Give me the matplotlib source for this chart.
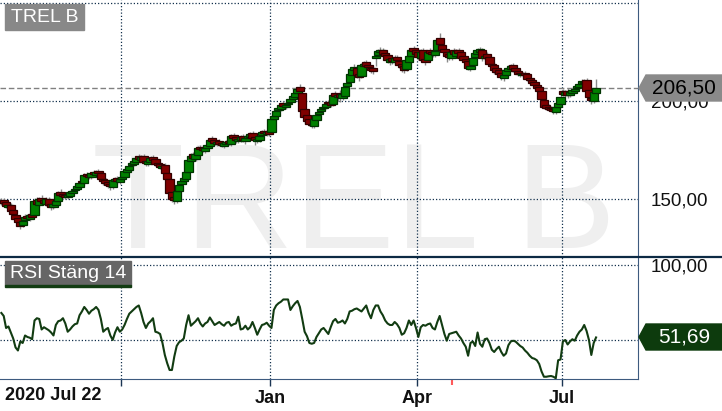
import matplotlib.pyplot as plt
from matplotlib.patches import Rectangle, Polygon
from matplotlib.lines import Line2D
from matplotlib.ticker import FixedFormatter

plt.rcParams['font.family'] = ['Liberation Sans', 'DejaVu Sans']

ticker_name = "TREL B"
rsi_title = "RSI Stäng 14"
start_label = "2020 Jul 22"
month_labels = ["", "Jan", "Apr", "Jul"]
month_starts = [51, 114, 176, 237]   # trading day index of first day in Oct, Jan, Apr, Jul
event_day = 190
last_price = 206.50
last_rsi = 51.69
price_ticks = [150, 200, 250]
price_tick_labels = ["150,00", "200,00", ""]
rsi_ticks = [50, 100]
rsi_tick_labels = ["", "100,00"]   # 50 is hidden behind the value tag

# daily OHLC, 2020-07-22 .. 2021-07-21
opens = [
    148, 149.5, 148.5, 146, 147, 144.5, 142, 140.5, 138.5, 136.5,
    139.5, 141.5, 140, 142.5, 142, 149.5, 147, 150.5, 149.5, 147.5,
    150, 147.5, 146, 147, 149, 153.5, 152.5, 152, 151, 151.5,
    153, 154.5, 155, 156, 159, 158, 162.5, 162, 161, 164,
    162, 164.5, 163.5, 160, 159.5, 158.5, 157.5, 156, 159, 160.5,
    158.5, 160, 161, 164, 165, 167.5, 168, 169, 172, 170,
    172, 169.5, 168, 169, 171.5, 170.5, 168.5, 168, 166, 167.5,
    163.5, 160, 153.5, 151, 149, 154, 157.5, 159, 160, 164,
    169.5, 173, 170.5, 172.5, 176.5, 176, 174.5, 176, 177, 181,
    180, 178, 179.5, 178.5, 177, 178, 179.5, 178, 182.5, 181.5,
    179.5, 180, 182, 179.5, 181, 181.5, 183.5, 181.5, 179.5, 180,
    182.5, 184.5, 183, 184.5, 184, 191, 192.5, 195.5, 196, 199,
    197, 198.5, 199.5, 201, 202, 204, 207, 204, 196, 193,
    191, 188.5, 187, 190.5, 193.5, 195, 196.5, 197, 199.5, 199.5,
    198.5, 204, 202, 203.5, 201.5, 202.5, 207.5, 209.5, 213, 216,
    217, 214, 212.5, 218, 220, 218.5, 217, 217, 222, 223.5,
    225, 226, 224.5, 223.5, 220, 222, 220, 222.5, 220.5, 219,
    218, 216.5, 220, 223, 227, 226, 225, 222, 226, 221.5,
    221, 226, 225, 223.5, 226, 232, 228.5, 226.5, 225, 224,
    222, 226, 223, 226, 225, 223, 221.5, 220.5, 216.5, 218.5,
    222.5, 224, 225, 226, 222, 224, 222.5, 219, 218.5, 217,
    216, 214.5, 211.5, 213, 215.5, 216.5, 218.5, 217, 215.5, 214.5,
    213, 214.5, 213.5, 211.5, 210.5, 209.5, 208, 207, 205, 200.5,
    198, 197, 196.5, 196, 194.5, 197, 198.5, 205, 203, 205,
    203, 204, 205, 206.5, 207, 208.5, 209, 210.5, 205.5, 201.5,
    200, 204,
]
highs = [
    150.5, 150.5, 149.5, 148, 148, 145.5, 143, 141.5, 139, 140.5,
    142.5, 142.5, 143, 143.5, 150.5, 151, 151, 152, 150.5, 151,
    151, 148.5, 148.5, 150, 154, 155, 153.5, 153, 153, 154.5,
    155, 156, 157.5, 159, 160, 163, 164, 163, 164, 165,
    165, 165.5, 164, 161, 160.5, 159.5, 158.5, 160.5, 161, 161.5,
    161, 162, 165.5, 166.5, 168, 169, 170.5, 172, 173, 172.5,
    173, 170.5, 170.5, 172, 172.5, 171.5, 169.5, 169, 168, 168.5,
    164.5, 161, 154.5, 152, 155, 158, 160, 161.5, 165, 171,
    173.5, 174, 174, 177, 177.5, 177, 177, 178.5, 181, 182,
    181, 180, 180.5, 179.5, 179.5, 180, 180.5, 183, 183.5, 182.5,
    181.5, 182.5, 183, 182, 183, 184, 184.5, 182.5, 181.5, 183,
    185, 185.5, 185, 185.5, 192, 193.5, 196, 197.5, 199, 200,
    199, 200, 202, 203.5, 205, 207, 208.5, 205, 197, 194,
    192, 190, 192, 194, 195.5, 197, 198, 199.5, 200.5, 200.5,
    204, 205, 204, 205.5, 204.5, 208, 210, 215, 217.5, 219,
    218, 215, 219.5, 220.5, 221, 219.5, 218, 218, 224.5, 226.5,
    227.5, 227, 225.5, 224.5, 222.5, 223, 223.5, 223.5, 221.5, 220,
    219, 222, 224, 227, 228, 227, 226, 226.5, 227, 222.5,
    226, 227, 226, 226.5, 232, 234.5, 229.5, 227, 226.5, 225.5,
    226, 227, 226.5, 227, 226, 224, 222.5, 221, 219.5, 223,
    226, 227, 227.5, 227, 224.5, 225, 223.5, 220.5, 220, 218,
    217, 215.5, 214, 217, 218.5, 219, 219.5, 218, 216.5, 215.5,
    215, 215.5, 214.5, 212.5, 211.5, 210.5, 209, 208, 206, 201.5,
    199, 198.5, 197.5, 197, 198, 200, 203, 206, 205.5, 206.5,
    205.5, 206.5, 207, 208.5, 209.5, 211, 211, 211.5, 206.5, 203,
    205.5, 211,
]
lows = [
    147, 147.5, 145.5, 145, 143, 141.5, 139, 136.5, 134.5, 135.5,
    138.5, 139.5, 139, 140, 141, 146.5, 146, 148, 147, 146.5,
    146, 144.5, 145, 146, 148, 151, 150.5, 150, 150, 151,
    152, 153.5, 154, 155, 157.5, 157, 160.5, 160, 160, 161.5,
    161, 162, 159, 157, 156.5, 155.5, 154.5, 155, 158, 157.5,
    157.5, 159, 160, 163, 164, 166.5, 167, 168, 169.5, 169,
    168, 167, 167, 168, 169, 167, 166, 165.5, 165, 161,
    158, 152, 148.5, 147.5, 148, 153, 156.5, 158, 159, 163,
    168.5, 170, 169.5, 171.5, 174.5, 174, 173.5, 175, 176, 178.5,
    177.5, 177, 177, 176.5, 176, 177, 177.5, 177, 180, 178.5,
    178.5, 179, 179, 178, 180, 180.5, 180, 177.5, 178.5, 179,
    181.5, 182.5, 182, 182, 183, 190, 191.5, 194.5, 195, 196,
    196, 197.5, 198.5, 200, 201, 203, 204, 194, 188, 188.5,
    187, 186, 186, 189.5, 192.5, 194, 195.5, 196, 198, 197,
    197.5, 201.5, 200, 199.5, 200.5, 201.5, 206.5, 208.5, 212, 215,
    211.5, 210, 211.5, 216.5, 216.5, 216, 214.5, 214, 218, 222.5,
    223.5, 223, 222, 219.5, 218.5, 219, 218.5, 220, 217, 215,
    214.5, 215.5, 219, 222, 224.5, 223, 221, 221, 220, 218.5,
    220, 223.5, 222.5, 222.5, 225, 228, 225, 223.5, 220, 221,
    221, 223, 222, 223.5, 221, 220, 218.5, 216, 215.5, 217.5,
    221.5, 222.5, 224, 220.5, 220.5, 221, 218, 216, 214, 213.5,
    213, 210.5, 210, 212, 214.5, 215.5, 215, 214, 212.5, 212,
    212, 211.5, 210, 209, 208, 207, 205.5, 204, 200, 196,
    195.5, 195, 194.5, 193.5, 193.5, 196, 197.5, 202.5, 202, 201.5,
    202, 203, 204, 205.5, 206.5, 207.5, 208, 204.5, 200.5, 198.5,
    199, 203,
]
closes = [
    149, 148, 146.5, 147, 144, 142.5, 140, 138, 136, 139,
    141, 140.5, 142, 141, 149, 147.5, 150, 149, 148, 150,
    147, 146, 147.5, 149, 153, 152, 151.5, 151, 152, 153.5,
    154, 155, 156.5, 158, 158.5, 162, 161.5, 161, 163, 162.5,
    164, 163, 160, 159, 158, 157, 156.5, 159.5, 160, 159,
    160, 161, 164.5, 165.5, 167, 168, 169.5, 171, 170.5, 171.5,
    169, 168.5, 169.5, 171, 170, 168, 167.5, 166.5, 167, 163,
    160, 153, 150, 149.5, 154, 157, 159, 160.5, 164, 170,
    172, 171, 173, 176, 175.5, 175, 176, 177.5, 180, 179.5,
    178.5, 179, 178, 177.5, 178.5, 179, 178.5, 182, 181, 180,
    180.5, 181.5, 180, 181, 182, 183, 181, 180, 180.5, 182,
    184, 183.5, 184, 183, 191, 192.5, 195, 196.5, 198, 197.5,
    198, 199, 201, 202.5, 204, 206, 205, 195, 192, 190,
    188, 187.5, 191, 193, 194.5, 196, 197, 198.5, 199, 198,
    203, 202.5, 203, 202, 203.5, 207, 209, 214, 216.5, 217.5,
    213, 212, 218.5, 219, 218, 217.5, 216, 215.5, 223, 225.5,
    226, 224, 223, 221, 221.5, 220.5, 222, 221, 218.5, 217.5,
    216, 221, 223, 226, 225.5, 224, 222.5, 225, 221, 220,
    225, 224.5, 224, 225.5, 231, 229, 226, 225, 223, 222.5,
    225, 224, 225.5, 224.5, 222, 221, 220, 217, 218, 222,
    224.5, 226, 226.5, 222, 223, 222, 219, 218, 216, 215,
    214, 212, 213, 216, 217, 218, 216.5, 215.5, 214, 213.5,
    214, 213, 211, 210.5, 209, 208, 206.5, 205, 201, 197,
    196.5, 196, 195.5, 195, 197, 199, 202, 203.5, 204.5, 203,
    204.5, 205.5, 206, 207.5, 208.5, 210, 209.5, 205, 202, 200.5,
    204.5, 206.5,
]
rsi = [
    68, 66, 58, 59, 55, 51, 45, 43, 49, 48,
    53, 52, 51.5, 50.5, 63, 64.5, 64, 57, 58.5, 57.5,
    56.5, 55, 53, 60, 62.5, 63, 64.5, 61, 55.5, 57,
    59, 60.5, 61, 66.5, 69, 72, 70, 67.5, 69.5, 70.5,
    72, 70, 64, 55.5, 57, 58, 53, 50, 55, 58.5,
    55.5, 57, 60, 64, 67.5, 69, 70.5, 72, 73, 68,
    62, 58, 61, 62.5, 64.5, 55.5, 55, 54, 48, 40,
    34.5, 30, 30, 39, 46, 48.5, 49.5, 51, 60, 66.5,
    59.5, 61, 62.5, 64.5, 61, 59, 61, 62, 65, 62.5,
    60, 61, 62, 60.5, 59.5, 61.5, 62, 59.5, 60.5, 61,
    65.5, 57, 57.5, 59.5, 57, 58.5, 62, 58, 53.5, 57,
    60, 60.5, 61.5, 59.5, 58, 70, 73, 74.5, 75.5, 77,
    77, 77, 70, 72.5, 74.5, 76, 72, 64, 55.5, 52.5,
    48, 47.5, 48, 52, 54.5, 57, 58, 56, 54, 58.5,
    62.5, 64, 61.5, 62, 63, 61, 64, 69, 69.5, 70.5,
    71, 70, 69, 71, 73, 68, 64.5, 70, 73, 73,
    69, 66.5, 63, 61, 60, 60, 62, 60.5, 58, 53.5,
    54.5, 58, 63, 60, 63, 58, 52, 58.5, 60, 59.5,
    60.5, 61, 58, 57, 62, 66, 60, 54, 49.5, 54,
    54.5, 55, 55.5, 53, 51, 48, 45.5, 39.5, 48, 49,
    46, 55, 47.5, 45.5, 50.5, 51, 48, 43.5, 42, 44,
    45.5, 42, 39.5, 41, 46.5, 49, 49.5, 49, 47.5, 46,
    45, 43, 41.5, 39.5, 38, 37.5, 36.5, 34, 29, 25.5,
    25.5, 25.8, 26, 25.5, 24.5, 36.5, 37, 49, 50, 47,
    49, 50.5, 49.5, 53, 55.5, 57, 60, 56, 50, 40,
    48, 51.69,
]

W, H = 722, 411
fig = plt.figure(figsize=(W / 100, H / 100), dpi=100)


def fx(x):
    return x / W


def fy(y):
    return 1 - y / H


def fig_pts(pts):
    return [(fx(x), fy(y)) for x, y in pts]


axis_blue = '#3d5a7f'
grid_kw = dict(color='#12304d', linestyle=(0, (1, 1.6)), linewidth=0.9)

ax = fig.add_axes([0, fy(257), fx(638), 257 / H])
ax2 = fig.add_axes([0, fy(379), fx(638), (379 - 257) / H], sharex=ax)

days = list(range(len(closes)))
month_pos = [m - 0.5 for m in month_starts]

# watermark
ax.text(0.555, 1 - 248 / 257, ticker_name, transform=ax.transAxes, ha='center',
        va='baseline', fontsize=109, color='#efefef', zorder=0)

# candles
ax.vlines(days, lows, highs, color='#8a8a8a', linewidth=1, zorder=2)
up = [c >= o for o, c in zip(opens, closes)]
bottoms = [min(o, c) for o, c in zip(opens, closes)]
heights = [max(abs(c - o), 0.6) for o, c in zip(opens, closes)]
faces = ['#008000' if u else '#800000' for u in up]
edges = ['#003300' if u else '#330000' for u in up]
ax.bar(days, heights, bottom=bottoms, width=3.5, color=faces, edgecolor=edges,
       linewidth=0.9, zorder=3)
ax.axhline(last_price, color='#808080', linestyle=(0, (4, 2)), linewidth=1, zorder=1)

ax.set_xlim(-0.57, 268.7)
ax.set_ylim(120.4, 251.5)
ax.set_yticks(price_ticks)
ax.yaxis.set_major_formatter(FixedFormatter(price_tick_labels))
ax.yaxis.tick_right()
ax.set_xticks(month_pos)
ax.grid(True, **grid_kw)
ax.set_axisbelow(True)
ax.tick_params(axis='y', length=0, pad=9, labelsize=13.5, labelcolor='#111111')
ax.tick_params(axis='x', length=0, labelbottom=False)
for s in ['left', 'top', 'bottom']:
    ax.spines[s].set_visible(False)
ax.spines['right'].set_color(axis_blue)

# RSI panel
ax2.plot(days, rsi, color='#123c12', linewidth=1.5, zorder=3)
ax2.set_ylim(24, 105.3)
ax2.set_yticks(rsi_ticks)
ax2.yaxis.set_major_formatter(FixedFormatter(rsi_tick_labels))
ax2.yaxis.tick_right()
ax2.set_xticks(month_pos)
ax2.set_xticklabels(month_labels, fontweight='bold', fontsize=13)
ax2.set_xticks([event_day], minor=True)
ax2.grid(True, which='major', **grid_kw)
ax2.tick_params(axis='y', length=0, pad=9, labelsize=13.5, labelcolor='#111111')
ax2.tick_params(axis='x', which='major', length=5, width=1, color='#1b3553',
                pad=3, labelcolor='#111111')
ax2.tick_params(axis='x', which='minor', length=4, width=1.5, color='#ff5a5a')
for s in ['left', 'top']:
    ax2.spines[s].set_visible(False)
ax2.spines['right'].set_color(axis_blue)
ax2.spines['bottom'].set_color(axis_blue)

fig.text(fx(5), fy(395), start_label, ha='left', va='center', fontsize=13,
         fontweight='bold', color='#111111')

# panel separator
fig.add_artist(Line2D([0, 1], [fy(257), fy(257)], color='#0c2a44', linewidth=1.6))

# name boxes
fig.add_artist(Rectangle((fx(5), fy(30)), fx(84) - fx(5), fy(4) - fy(30),
                         transform=fig.transFigure, color='#888888'))
fig.text(fx(44.5), fy(17), ticker_name, ha='center', va='center', fontsize=14, color='white')
fig.add_artist(Rectangle((fx(5), fy(285)), fx(131) - fx(5), fy(261) - fy(285),
                         transform=fig.transFigure, color='#666666'))
fig.add_artist(Rectangle((fx(5), fy(287)), fx(131) - fx(5), fy(285) - fy(287),
                         transform=fig.transFigure, color='#123c12'))
fig.text(fx(68), fy(273), rsi_title, ha='center', va='center', fontsize=14, color='white')

# last value tags
fig.add_artist(Polygon(fig_pts([(639, 88), (646, 75), (722, 75), (722, 101), (646, 101)]),
                       closed=True, transform=fig.transFigure, color='#8a8a8a', zorder=5))
fig.text(fx(684), fy(88), f"{last_price:.2f}".replace('.', ','), ha='center', va='center',
         fontsize=15, color='#000000', zorder=6)
fig.add_artist(Polygon(fig_pts([(639, 337), (646, 324), (722, 324), (722, 350), (646, 350)]),
                       closed=True, transform=fig.transFigure, color='#0d3b0d', zorder=5))
fig.text(fx(684), fy(337), f"{last_rsi:.2f}".replace('.', ','), ha='center', va='center',
         fontsize=15, color='white', zorder=6)

fig.savefig('out.png', dpi=100)
